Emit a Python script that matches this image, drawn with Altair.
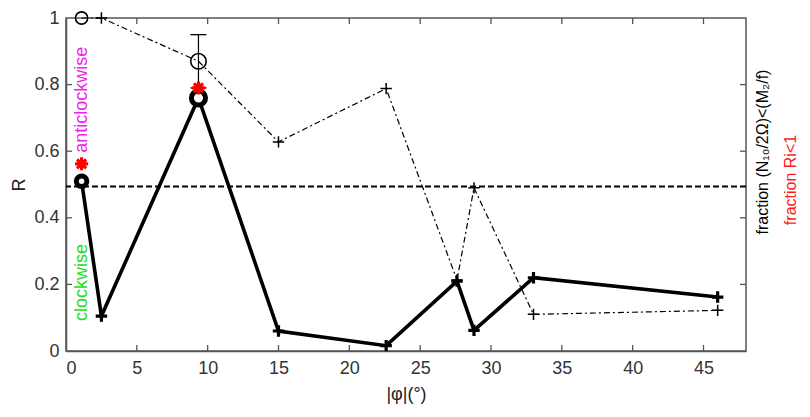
import altair as alt
import pandas as pd

# ---- data ----
phi = [1.1, 2.5, 9.35, 15.0, 22.6, 27.6, 28.8, 33.0, 46.0]
r_solid = [0.51, 0.105, 0.76, 0.06, 0.016, 0.21, 0.062, 0.22, 0.162]
frac_n = [1.0, 1.0, 0.87, 0.628, 0.788, 0.213, 0.49, 0.11, 0.122]
circle_phi = [1.1, 9.35]
ri_phi = [1.1, 9.35]
ri_vals = [0.562, 0.79]
err_phi = [9.35]
err_lo = [0.79]
err_hi = [0.95]
threshold = [0.494]
x_ticks = [0, 5, 10, 15, 20, 25, 30, 35, 40, 45]
y_ticks = [0, 0.2, 0.4, 0.6, 0.8, 1.0]
inner_x_ticks = [5, 10, 15, 20, 25, 30, 35, 40, 45]
inner_y_ticks = [0.2, 0.4, 0.6, 0.8]
notes = ["anticlockwise", "clockwise"]
note_phi = [1.1, 1.1]
note_y = [0.595, 0.09]

FONT = "Liberation Sans, Arial, DejaVu Sans"
W, H = 680, 333
AX = "#555555"

df = pd.DataFrame({"phi": phi, "solid": r_solid, "frac": frac_n})
df["ring"] = df["phi"].isin(circle_phi)
df_ri = pd.DataFrame({"phi": ri_phi, "ri": ri_vals})
df_err = pd.DataFrame({"phi": err_phi, "lo": err_lo, "hi": err_hi})
df_thr = pd.DataFrame({"y": threshold})
df_notes = pd.DataFrame({"phi": note_phi, "y": note_y, "txt": notes})
df_xt = pd.DataFrame({"t": inner_x_ticks})
df_yt = pd.DataFrame({"t": inner_y_ticks})

xscale = alt.Scale(domain=[0, 48], nice=False, zero=False)
yscale = alt.Scale(domain=[0, 1], nice=False, zero=False)

X = alt.X("phi:Q", scale=xscale, axis=alt.Axis(
    values=x_ticks, ticks=False, tickSize=0, grid=False,
    labelFontSize=18, labelFont=FONT, labelColor="#333333", labelPadding=8,
    domainColor=AX, domainWidth=1.5,
    title="|φ|(°)", titleFont=FONT, titleFontSize=18, titleFontWeight="normal",
    titleColor="#222222", titlePadding=8))
Y_axis = alt.Axis(
    values=y_ticks, format="~g", ticks=False, tickSize=0, grid=False,
    labelFontSize=18, labelFont=FONT, labelColor="#333333", labelPadding=7,
    domainColor=AX, domainWidth=1.5,
    title="R", titleFont=FONT, titleFontSize=18, titleFontWeight="normal",
    titleColor="#222222", titlePadding=5)

base = alt.Chart(df)

thr = alt.Chart(df_thr).mark_rule(color="black", strokeWidth=2, strokeDash=[6, 3]).encode(
    y=alt.Y("y:Q", scale=yscale, axis=Y_axis))

dash_line = base.mark_line(color="black", strokeWidth=1.2, strokeDash=[6, 3, 2, 3]).encode(
    x=X, y=alt.Y("frac:Q", scale=yscale))

PLUS = "M-1,0L1,0M0,-1L0,1"
ASTER = "M-1,0L1,0M0,-1L0,1M-0.7,-0.7L0.7,0.7M-0.7,0.7L0.7,-0.7"

dash_plus = base.transform_filter("!datum.ring").mark_point(
    shape=PLUS, size=130, stroke="black", strokeWidth=1.5, filled=False, opacity=1).encode(
    x="phi:Q", y="frac:Q")

dash_circ = base.transform_filter("datum.ring").mark_point(
    shape="circle", stroke="black", strokeWidth=1.6, filled=False, opacity=1).encode(
    x="phi:Q", y="frac:Q",
    size=alt.condition("datum.phi > 5", alt.value(240), alt.value(150)))

err_rule = alt.Chart(df_err).mark_rule(color="black", strokeWidth=1.2).encode(
    x="phi:Q", y="lo:Q", y2="hi:Q")
err_cap_hi = alt.Chart(df_err).mark_tick(orient="horizontal", size=16, thickness=1.3, color="black", opacity=1).encode(
    x="phi:Q", y="hi:Q")
err_cap_lo = alt.Chart(df_err).mark_tick(orient="horizontal", size=16, thickness=1.3, color="black", opacity=1).encode(
    x="phi:Q", y="lo:Q")

solid_line = base.mark_line(color="black", strokeWidth=3.6).encode(
    x="phi:Q", y="solid:Q")

solid_plus = base.transform_filter("!datum.ring").mark_point(
    shape=PLUS, size=130, stroke="black", strokeWidth=3.2, filled=False, opacity=1).encode(
    x="phi:Q", y="solid:Q")

solid_ring = base.transform_filter("datum.ring").mark_point(
    shape="circle", stroke="black", strokeWidth=5, fill="white", fillOpacity=1, opacity=1).encode(
    x="phi:Q", y="solid:Q",
    size=alt.condition("datum.phi > 5", alt.value(200), alt.value(110)))

ri_pts = alt.Chart(df_ri).mark_point(
    shape=ASTER, size=170, stroke="#ff0000", strokeWidth=3.2, filled=False, opacity=1).encode(
    x="phi:Q", y="ri:Q")

note_txt = alt.Chart(df_notes).mark_text(
    angle=270, align="left", baseline="middle", font=FONT, fontSize=18).encode(
    x="phi:Q", y="y:Q", text="txt:N",
    color=alt.Color("txt:N", scale=alt.Scale(domain=notes, range=["#ee22ee", "#22dd22"]), legend=None))

tick_b = alt.Chart(df_xt).mark_rule(color=AX, strokeWidth=1.3).encode(
    x="t:Q", y=alt.value(H), y2=alt.value(H - 6))
tick_t = alt.Chart(df_xt).mark_rule(color=AX, strokeWidth=1.3).encode(
    x="t:Q", y=alt.value(0), y2=alt.value(6))
tick_l = alt.Chart(df_yt).mark_rule(color=AX, strokeWidth=1.3).encode(
    y="t:Q", x=alt.value(0), x2=alt.value(6))
tick_r = alt.Chart(df_yt).mark_rule(color=AX, strokeWidth=1.3).encode(
    y="t:Q", x=alt.value(W), x2=alt.value(W - 6))

right_black = alt.Chart(pd.DataFrame({"s": ["fraction (N₁₀/2Ω)<(M₂/f)"]})).mark_text(
    angle=270, align="center", baseline="middle", font=FONT, fontSize=16, color="black").encode(
    text="s:N", x=alt.value(W + 17), y=alt.value(134))
right_red = alt.Chart(pd.DataFrame({"s": ["fraction Ri<1"]})).mark_text(
    angle=270, align="center", baseline="middle", font=FONT, fontSize=16, color="#ff1a1a").encode(
    text="s:N", x=alt.value(W + 45), y=alt.value(162))

chart = alt.layer(
    thr, dash_line, dash_plus, dash_circ, err_rule, err_cap_hi, err_cap_lo,
    solid_line, solid_plus, solid_ring, ri_pts, note_txt,
    tick_b, tick_t, tick_l, tick_r, right_black, right_red
).properties(
    width=W, height=H,
    autosize=alt.AutoSizeParams(type="none"),
    padding={"left": 58, "top": 10, "right": 56, "bottom": 58},
    background="white",
).configure_view(stroke=AX, strokeWidth=1.5)

chart.save("out.html", embed_options={"renderer": "svg", "actions": False})
